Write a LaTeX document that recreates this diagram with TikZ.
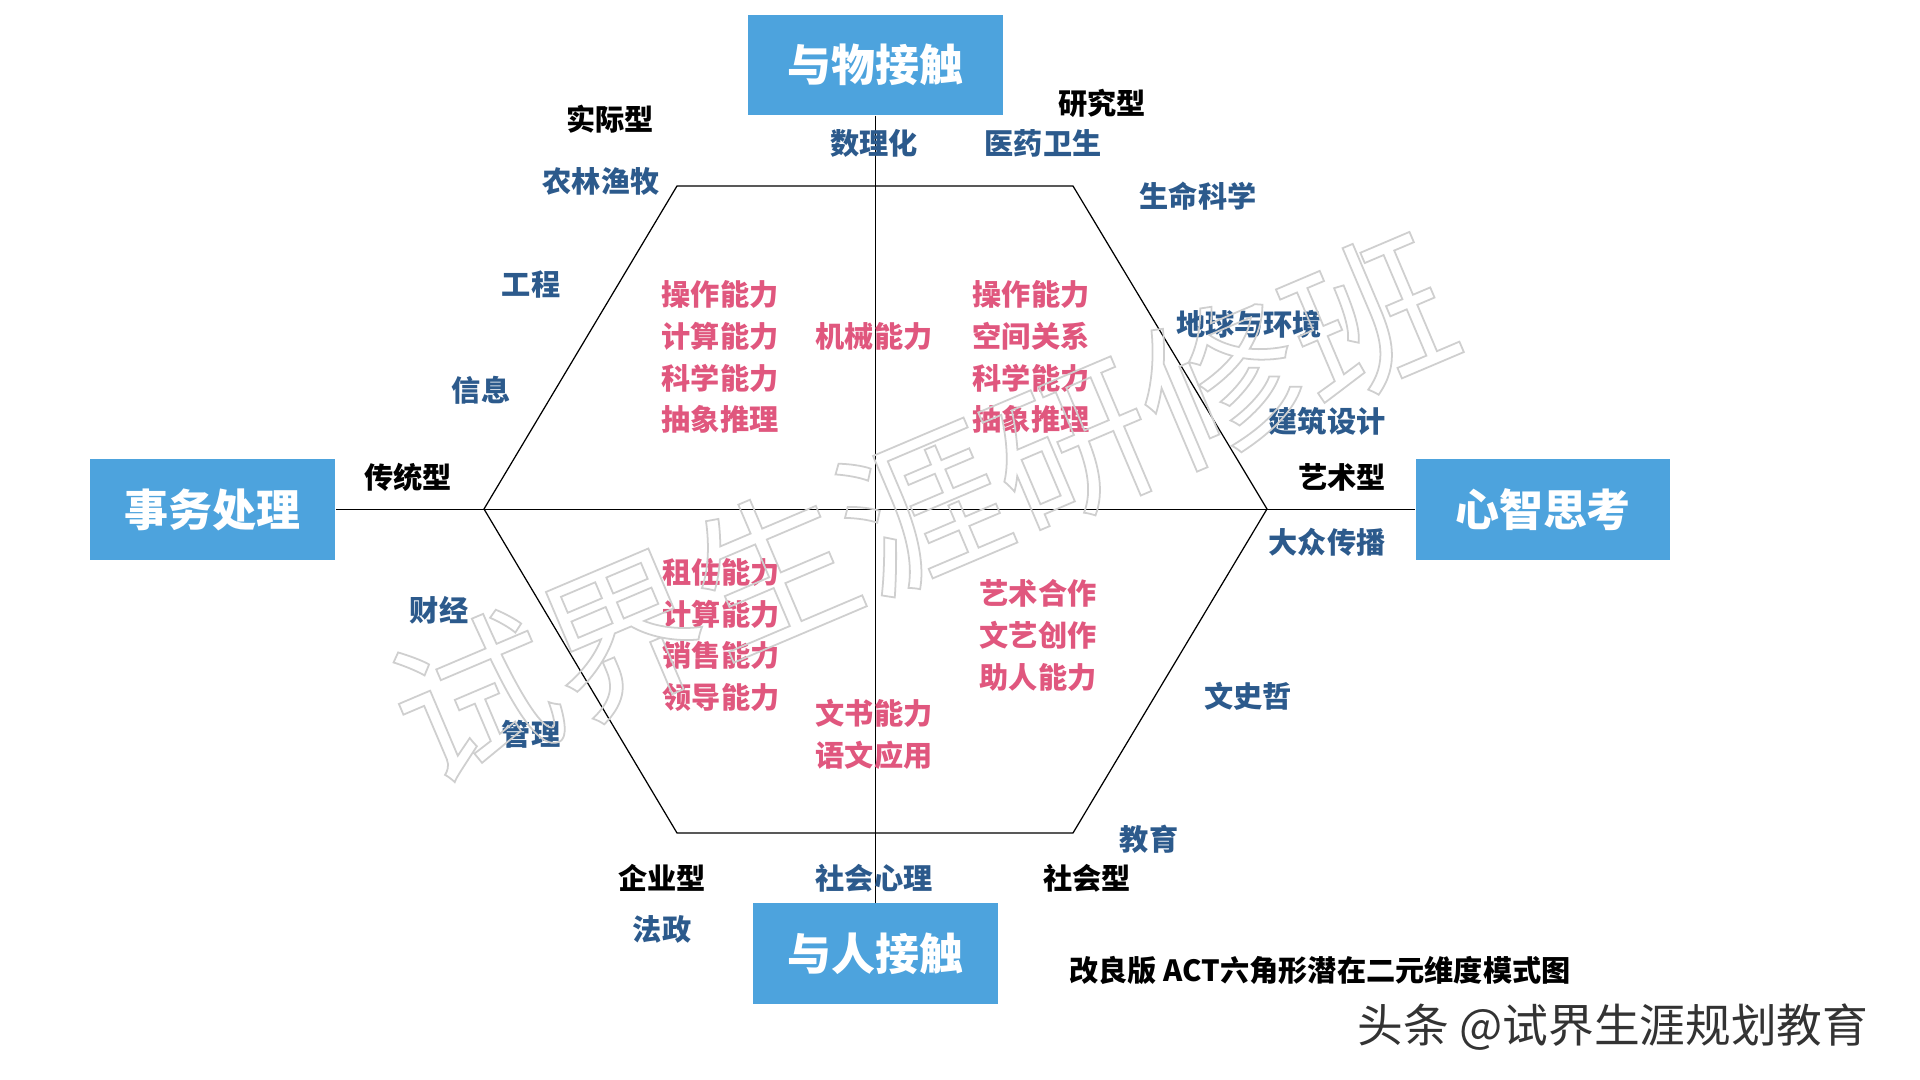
\documentclass[tikz,border=0pt]{standalone}
\usepackage{fontspec}
\usepackage{xcolor}
\usepackage{tikz}
\usetikzlibrary{positioning}
\newfontfamily\cjk{Noto Sans CJK SC}
\definecolor{boxblue}{HTML}{4DA3DD}
\definecolor{fieldblue}{HTML}{2C5A8C}
\definecolor{skillpink}{HTML}{E0577E}
\definecolor{markgray}{HTML}{CFCFCF}
\newcommand{\outlinetext}[1]{\special{pdf:literal direct 1 Tr 0.5 w}#1\special{pdf:literal direct 0 Tr}}
\tikzset{
  dimbox/.style={fill=boxblue, text=white, inner sep=0pt, minimum width=2.5cm,
                 minimum height=1cm, font=\cjk\bfseries\fontsize{12.5}{15}\selectfont},
  typelbl/.style={font=\cjk\bfseries\fontsize{8.3}{10}\selectfont, text=black, inner sep=0pt},
  field/.style={font=\cjk\bfseries\fontsize{8.3}{10}\selectfont, text=fieldblue, inner sep=0pt},
  skill/.style={font=\cjk\bfseries\fontsize{8.3}{11.9}\selectfont, text=skillpink, align=center, inner sep=0pt},
  axis/.style={line width=0.55pt},
  hexline/.style={line width=0.35pt},
  wmark/.style={font=\cjk\fontsize{46}{48}\selectfont, text=markgray, inner sep=0pt},
}

\begin{document}
\begin{tikzpicture}[x=0.01cm, y=-0.01cm]
  \fill[white] (0,0) rectangle (1920,1080);
  \useasboundingbox (0,0) rectangle (1920,1080);
  \node[dimbox, minimum width=2.55cm] (wu) at (875.5,65) {与物接触};
  \node[dimbox, minimum width=2.45cm] (shiwu) at (212.5,509.5) {事务处理};
  \node[dimbox, minimum width=2.54cm] (xinzhi) at (1543,509.5) {心智思考};
  \node[dimbox, minimum width=2.45cm] (ren) at (875.5,953.5) {与人接触};
  \draw[axis] (shiwu.east) -- (xinzhi.west);
  \draw[axis] (wu.south) -- (ren.north);
  \coordinate (hL) at (484,509);
  \coordinate (hTL) at (677,186);
  \coordinate (hTR) at (1073,186);
  \coordinate (hR) at (1267,509);
  \coordinate (hBR) at (1073,833);
  \coordinate (hBL) at (677,833);
  \draw[hexline] (hL) -- (hTL) -- (hTR) -- (hR) -- (hBR) -- (hBL) -- cycle;
  \node[typelbl] (shiji) at (610,119) {实际型};
  \node[typelbl] (yanjiu) at (1102,103) {研究型};
  \node[typelbl] (chuantong) at (408,477) {传统型};
  \node[typelbl] (yishu) at (1342,477) {艺术型};
  \node[typelbl] (qiye) at (662,878) {企业型};
  \node[typelbl] (shehui) at (1087,878) {社会型};
  \node[field] (shulihua) at (874,143) {数理化};
  \node[field] (yiyao) at (1043,143) {医药卫生};
  \node[field] (nonglin) at (601,181) {农林渔牧};
  \node[field] (shengming) at (1198,196) {生命科学};
  \node[field] (gongcheng) at (531,285) {工程};
  \node[field] (diqiu) at (1249,324) {地球与环境};
  \node[field] (xinxi) at (481,390) {信息};
  \node[field] (jianzhu) at (1327,421) {建筑设计};
  \node[field] (dazhong) at (1327,542) {大众传播};
  \node[field] (caijing) at (439,610) {财经};
  \node[field] (wenshi) at (1248,696) {文史哲};
  \node[field] (guanli) at (531,734) {管理};
  \node[field] (jiaoyu) at (1149,839) {教育};
  \node[field] (shehuixl) at (874,878) {社会心理};
  \node[field] (fazheng) at (662,929) {法政};
  \node[skill] (skTL) at (720,357) {操作能力\\计算能力\\科学能力\\抽象推理};
  \node[skill] (skTC) at (874,336) {机械能力};
  \node[skill] (skTR) at (1031,357) {操作能力\\空间关系\\科学能力\\抽象推理};
  \node[skill] (skBL) at (721,635) {租住能力\\计算能力\\销售能力\\领导能力};
  \node[skill] (skBR) at (1038,635.5) {艺术合作\\文艺创作\\助人能力};
  \node[skill] (skBC) at (874,734.5) {文书能力\\语文应用};
  \node[typelbl] (caption) at (1320,970) {改良版 ACT六角形潜在二元维度模式图};
  \node[font=\cjk\fontsize{13}{15}\selectfont, text=black!80, inner sep=0pt] (toutiao) at (1613,1027) {头条 @试界生涯规划教育};
  \node[wmark, rotate=23] (banner) at (922,508) {\outlinetext{试界生涯研修班}};
\end{tikzpicture}
\end{document}
